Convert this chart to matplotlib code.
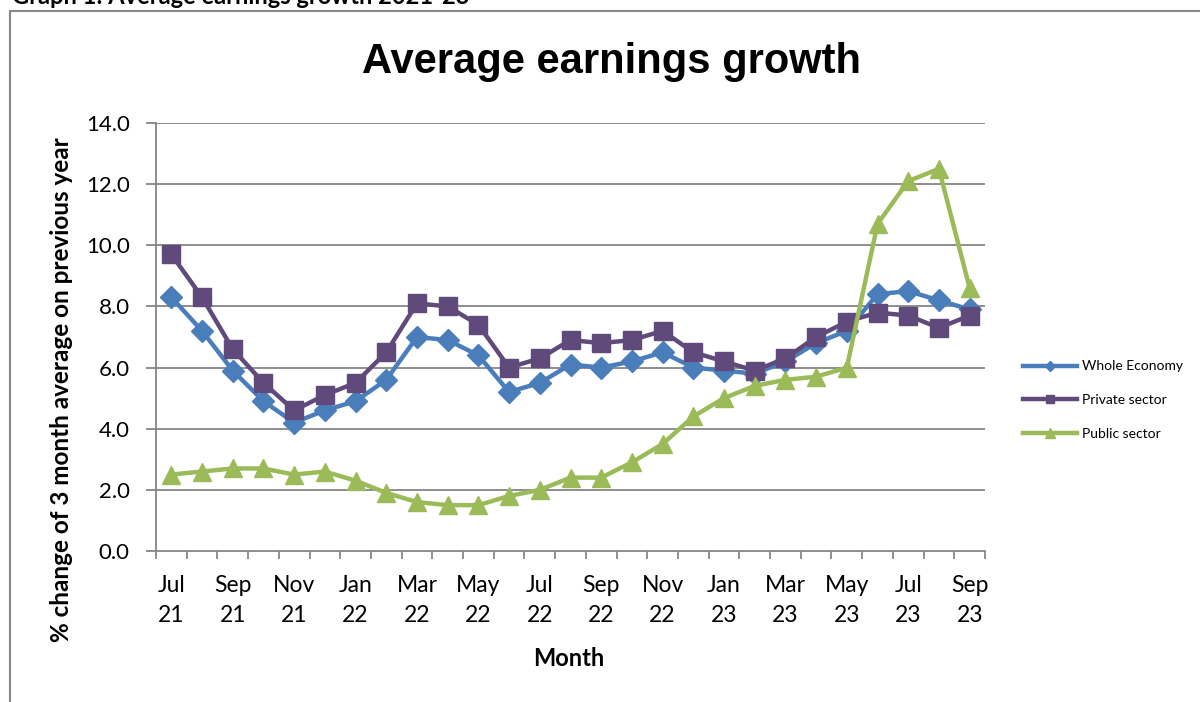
import matplotlib
matplotlib.use("Agg")
import matplotlib.pyplot as plt
from matplotlib.patches import Rectangle

months = ["Jul 21", "Aug 21", "Sep 21", "Oct 21", "Nov 21", "Dec 21", "Jan 22", "Feb 22",
          "Mar 22", "Apr 22", "May 22", "Jun 22", "Jul 22", "Aug 22", "Sep 22", "Oct 22",
          "Nov 22", "Dec 22", "Jan 23", "Feb 23", "Mar 23", "Apr 23", "May 23", "Jun 23",
          "Jul 23", "Aug 23", "Sep 23"]
whole_economy = [8.3, 7.2, 5.9, 4.9, 4.2, 4.6, 4.9, 5.6, 7.0, 6.9, 6.4, 5.2, 5.5, 6.1,
                 6.0, 6.2, 6.5, 6.0, 5.9, 5.8, 6.2, 6.8, 7.2, 8.4, 8.5, 8.2, 7.9]
private_sector = [9.7, 8.3, 6.6, 5.5, 4.6, 5.1, 5.5, 6.5, 8.1, 8.0, 7.4, 6.0, 6.3, 6.9,
                  6.8, 6.9, 7.2, 6.5, 6.2, 5.9, 6.3, 7.0, 7.5, 7.8, 7.7, 7.3, 7.7]
public_sector = [2.5, 2.6, 2.7, 2.7, 2.5, 2.6, 2.3, 1.9, 1.6, 1.5, 1.5, 1.8, 2.0, 2.4,
                 2.4, 2.9, 3.5, 4.4, 5.0, 5.4, 5.6, 5.7, 6.0, 10.7, 12.1, 12.5, 8.6]
yticks = [0, 2, 4, 6, 8, 10, 12, 14]

W, H = 1200, 702
fig = plt.figure(figsize=(W / 100, H / 100), dpi=100)
fig.patch.set_facecolor("white")

# chart area border
fig.patches.append(Rectangle((10 / W, -0.01), 1.2, (H - 11) / H + 0.01,
                             transform=fig.transFigure, fill=False,
                             edgecolor="#888888", linewidth=1.5))
fig.text(12 / W, 1 + 4 / H, "Graph 1: Average earnings growth 2021-23",
         fontsize=17, fontweight="bold", family="Lato",
         ha="left", va="center")

ax = fig.add_axes([156 / W, 1 - 551 / H, (985 - 156) / W, (551 - 123) / H])
x = list(range(len(months)))

gridc = "#868686"
for yv in yticks[1:]:
    ax.axhline(yv, color=gridc, linewidth=1.3, zorder=0)

ax.plot(x, whole_economy, color="#4A7EBB", linewidth=3.2, marker="D", markersize=11,
        label="Whole Economy", zorder=3)
ax.plot(x, private_sector, color="#604A7B", linewidth=3.2, marker="s", markersize=12.5,
        label="Private sector", zorder=3)
ax.plot(x, public_sector, color="#9BBB59", linewidth=3.2, marker="^", markersize=13,
        label="Public sector", zorder=4)

ax.set_xlim(-0.5, len(months) - 0.5)
ax.set_ylim(0, 14)
ax.set_yticks(yticks)
ax.set_yticklabels([f"{v:.1f}" for v in yticks], fontsize=16, family="Lato")

ax.set_xticks([i - 0.5 for i in range(len(months) + 1)])
ax.set_xticklabels([])
ax.tick_params(axis="x", length=6, color=gridc, width=1.3, direction="out")
ax.tick_params(axis="y", length=7, color=gridc, width=1.3, direction="out", pad=12)
for i in range(0, len(months), 2):
    mon, yr = months[i].split(" ")
    ax.annotate(mon, xy=(i, 0), xycoords=("data", "axes fraction"),
                xytext=(0, -35), textcoords="offset pixels",
                ha="center", va="center", fontsize=16.5, family="Lato")
    ax.annotate(yr, xy=(i, 0), xycoords=("data", "axes fraction"),
                xytext=(0, -65), textcoords="offset pixels",
                ha="center", va="center", fontsize=16.5, family="Lato")

for s in ["top", "right"]:
    ax.spines[s].set_visible(False)
for s in ["left", "bottom"]:
    ax.spines[s].set_color(gridc)
    ax.spines[s].set_linewidth(1.3)

fig.text(611 / W, 1 - 62 / H, "Average earnings growth", fontsize=30, fontweight="bold",
         family="Liberation Sans", ha="center", va="center")
fig.text(569 / W, 1 - 658 / H, "Month", fontsize=17, fontweight="bold", family="Lato",
         ha="center", va="center")
fig.text(62 / W, 1 - 390 / H, "% change of 3 month average on previous year", fontsize=17.5,
         fontweight="bold", family="Lato", ha="center", va="center", rotation=90)

leg = ax.legend(loc="center left", bbox_to_anchor=(1010 / W, 1 - 400 / H),
                bbox_transform=fig.transFigure, frameon=False,
                prop={"family": "Lato", "size": 10}, handlelength=3.9,
                handletextpad=0.35, labelspacing=1.55, markerscale=0.5)

fig.savefig("out.png", dpi=100)
